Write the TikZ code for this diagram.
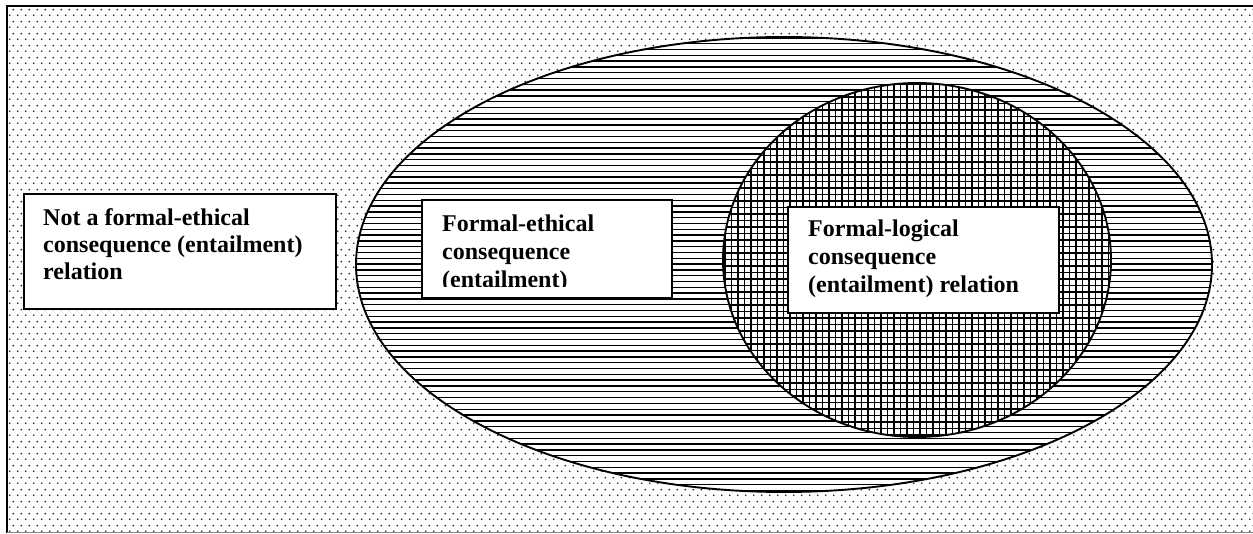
\documentclass[tikz,border=0pt]{standalone}
\usepackage{fontspec}
\setmainfont{Liberation Serif}
\usetikzlibrary{patterns.meta}
\tikzdeclarepattern{
  name=pdots,
  type=colored,
  bottom left={(0pt,0pt)},
  top right={(7.5pt,12pt)},
  tile size={(7.5pt,12pt)},
  code={
    \fill[black!90] (1.875pt,3pt) circle (1pt);
    \fill[black!90] (5.625pt,9pt) circle (1pt);
  }
}
\tikzset{
  frameline/.style={line width=2pt},
  setline/.style={line width=1.9pt},
  hatch/.style={line width=1.4pt, black},
  labelbox/.style={draw, line width=1.8pt, fill=white},
  lbl/.style={anchor=base west, inner sep=0pt, font=\bfseries\fontsize{24}{28}\selectfont},
}
\begin{document}
\begin{tikzpicture}[x=1pt,y=-1pt]
\useasboundingbox (0,0) rectangle (1253,534);
% background dots
\fill[pattern=pdots] (7,7) rectangle (1253,532);
\draw[frameline] (1258,6.5) -- (6.5,6.5) -- (6.5,533);
\draw[black!45, line width=0.8pt] (6.5,532.5) -- (1253,532.5);
% big ellipse with horizontal hatching
\fill[white] (784,264.5) ellipse [x radius=428, y radius=227.5];
\begin{scope}
  \clip (784,264.5) ellipse [x radius=428, y radius=227.5];
  \foreach \y in {38,43.8,...,494} {\draw[hatch] (350,\y) -- (1220,\y);}
\end{scope}
% inner circle with grid hatching
\fill[white] (917,260) ellipse [x radius=194, y radius=177];
\begin{scope}
  \clip (917,260) ellipse [x radius=194, y radius=177];
  \foreach \y in {84,90.5,...,440} {\draw[hatch] (720,\y) -- (1115,\y);}
  \foreach \x in {725,731.5,...,1115} {\draw[hatch] (\x,80) -- (\x,440);}
\end{scope}
\draw[setline] (784,264.5) ellipse [x radius=428, y radius=227.5];
\draw[setline] (917,260) ellipse [x radius=194, y radius=177];
% boxes
\node[labelbox, anchor=north west, minimum width=312pt, minimum height=115pt, inner sep=0pt] (b1) at (23,193) {};
\node[labelbox, anchor=north west, minimum width=250pt, minimum height=98pt, inner sep=0pt] (b2) at (421,199) {};
\node[labelbox, anchor=north west, minimum width=271pt, minimum height=106pt, inner sep=0pt] (b3) at (787,206) {};
% texts
\node[lbl] (t1a) at (43,226) {Not a formal-ethical};
\node[lbl] (t1b) at (43,253) {consequence (entailment)};
\node[lbl] (t1c) at (43,280) {relation};
\begin{scope}
  \clip (421,199) rectangle (671,287);
  \node[lbl] (t2a) at (442,232) {Formal-ethical};
  \node[lbl] (t2b) at (442,260) {consequence};
  \node[lbl] (t2c) at (442,288) {(entailment)};
\end{scope}
\node[lbl] (t3a) at (808,237) {Formal-logical};
\node[lbl] (t3b) at (808,265) {consequence};
\node[lbl] (t3c) at (808,293) {(entailment) relation};
\end{tikzpicture}
\end{document}
